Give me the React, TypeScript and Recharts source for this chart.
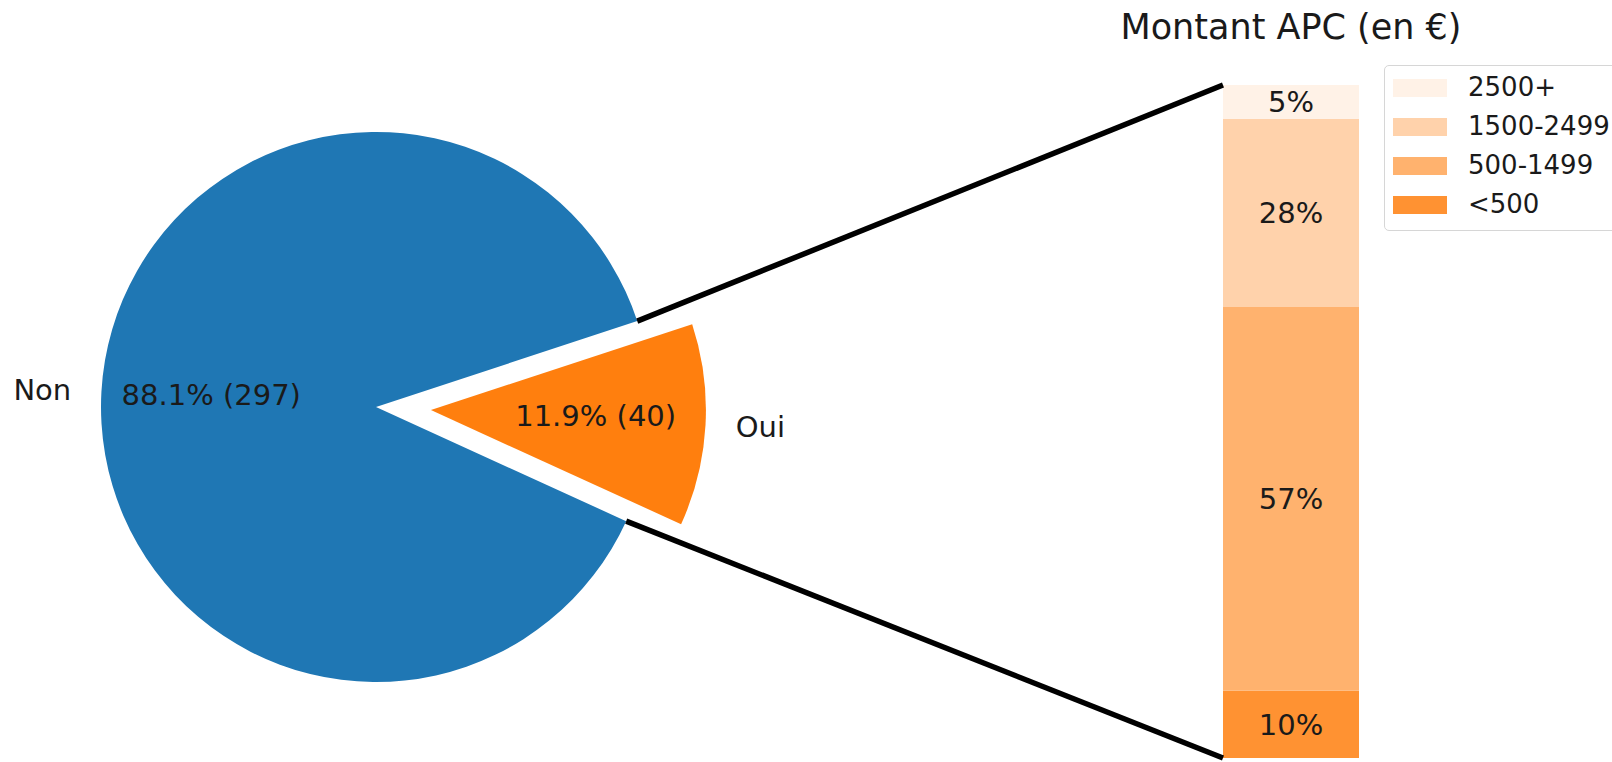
import React from 'react';
import { PieChart, Pie, Cell, BarChart, Bar, XAxis, YAxis, LabelList, Legend } from 'recharts';

// ---- data ----
const pieLabels = ['Non', 'Oui'];
const pieCounts = [297, 40];
const apcCategories = ['<500', '500-1499', '1500-2499', '2500+'];
const apcShares = [10, 57, 28, 5];
const chartTitle = 'Montant APC (en €)';

// ---- styles / layout ----
const FONT = 'DejaVu Sans';
const PIE_COLORS = ['#1f77b4', '#ff7f0e'];
const APC_COLORS = ['#ff9232', '#ffb26e', '#ffd2ab', '#fff2e7'];
const W = 1612;
const H = 762;
const PIE_CX = 376;
const PIE_CY = 407;
const PIE_R = 275;
const START_ANGLE = 18.2;
const EXPLODE = 55;
const EXPLODE_INDEX = 1;
const BAR_CHART_LEFT = 1150;
const BAR_CHART_W = 462;
const BAR_MARGIN = { top: 85, right: 253, bottom: 4, left: 73 };
const RADIAN = Math.PI / 180;

const total = pieCounts.reduce((a, b) => a + b, 0);
const pieData = pieLabels.map((name, i) => ({ name, value: pieCounts[i] }));
const boundaryAngle = (k: number) =>
  START_ANGLE + (360 * pieCounts.slice(0, k).reduce((a, b) => a + b, 0)) / total;
const explodeMid = (boundaryAngle(EXPLODE_INDEX) + boundaryAngle(EXPLODE_INDEX + 1)) / 2;
const OUI_CX = PIE_CX + EXPLODE * Math.cos(explodeMid * RADIAN);
const OUI_CY = PIE_CY - EXPLODE * Math.sin(explodeMid * RADIAN);

const barRow: Record<string, any> = { name: 'APC' };
apcCategories.forEach((c, i) => {
  barRow[c] = apcShares[i];
});
const barData = [barRow];

const polar = (cx: number, cy: number, r: number, a: number) => ({
  x: cx + r * Math.cos(a * RADIAN),
  y: cy - r * Math.sin(a * RADIAN),
});

const makeLabel = (only: number) => (props: any) => {
  const { cx, cy, midAngle, outerRadius, index, value, name } = props;
  if (index !== only) return null;
  const inner = polar(cx, cy, outerRadius * 0.6, midAngle);
  const outer = polar(cx, cy, outerRadius * 1.11, midAngle);
  const pct = ((100 * value) / total).toFixed(1);
  return (
    <g>
      <text
        x={inner.x}
        y={inner.y}
        dy={-3}
        textAnchor="middle"
        dominantBaseline="central"
        fill="#1a1a1a"
        fontSize={29}
        fontFamily={FONT}
      >
        {`${pct}% (${value})`}
      </text>
      <text
        x={outer.x}
        y={outer.y}
        textAnchor={outer.x < cx ? 'end' : 'start'}
        dominantBaseline="central"
        fill="#1a1a1a"
        fontSize={29}
        fontFamily={FONT}
      >
        {name}
      </text>
    </g>
  );
};

const renderLegend = (props: any) => {
  const payload = [...(props.payload || [])];
  const order = [...apcCategories].reverse();
  payload.sort((a: any, b: any) => order.indexOf(a.value) - order.indexOf(b.value));
  return (
    <div
      style={{
        width: 240,
        boxSizing: 'border-box',
        border: '1.5px solid #d6d6d6',
        borderRadius: 5,
        background: '#fff',
        padding: '2px 0 6px 8px',
        fontFamily: FONT,
        fontSize: 26,
        color: '#1a1a1a',
      }}
    >
      {payload.map((p: any) => (
        <div key={p.value} style={{ height: 39, display: 'flex', alignItems: 'center' }}>
          <span style={{ display: 'inline-block', width: 54, height: 18, background: p.color, marginRight: 21 }} />
          <span style={{ lineHeight: '39px' }}>{p.value}</span>
        </div>
      ))}
    </div>
  );
};

export default function App() {
  const barLeft = BAR_CHART_LEFT + BAR_MARGIN.left;
  const barRight = BAR_CHART_LEFT + BAR_CHART_W - BAR_MARGIN.right;
  const barTop = BAR_MARGIN.top;
  const barBottom = H - BAR_MARGIN.bottom;
  const upper = polar(PIE_CX, PIE_CY, PIE_R, boundaryAngle(EXPLODE_INDEX + 1));
  const lower = polar(PIE_CX, PIE_CY, PIE_R, boundaryAngle(EXPLODE_INDEX));
  return (
    <div style={{ position: 'relative', width: W, height: H, overflow: 'hidden', background: '#fff' }}>
      <style>{`body{margin:0;}`}</style>
      <div style={{ position: 'absolute', left: 0, top: 0 }}>
        <PieChart width={800} height={H} margin={{ top: 0, right: 0, bottom: 0, left: 0 }}>
          <Pie
            data={pieData}
            dataKey="value"
            nameKey="name"
            cx={PIE_CX}
            cy={PIE_CY}
            outerRadius={PIE_R}
            startAngle={START_ANGLE}
            endAngle={START_ANGLE + 360}
            stroke="none"
            labelLine={false}
            label={makeLabel(0)}
            isAnimationActive={false}
          >
            {pieData.map((d, i) => (
              <Cell key={d.name} fill={i === EXPLODE_INDEX ? 'transparent' : PIE_COLORS[i]} />
            ))}
          </Pie>
          <Pie
            data={pieData}
            dataKey="value"
            nameKey="name"
            cx={OUI_CX}
            cy={OUI_CY}
            outerRadius={PIE_R}
            startAngle={START_ANGLE}
            endAngle={START_ANGLE + 360}
            stroke="none"
            labelLine={false}
            label={makeLabel(EXPLODE_INDEX)}
            isAnimationActive={false}
          >
            {pieData.map((d, i) => (
              <Cell key={d.name} fill={i === EXPLODE_INDEX ? PIE_COLORS[i] : 'transparent'} />
            ))}
          </Pie>
        </PieChart>
      </div>
      <div style={{ position: 'absolute', left: BAR_CHART_LEFT, top: 0 }}>
        <BarChart width={BAR_CHART_W} height={H} data={barData} margin={BAR_MARGIN} barCategoryGap={0}>
          <XAxis dataKey="name" hide />
          <YAxis hide domain={[0, 100]} />
          {apcCategories.map((c, i) => (
            <Bar key={c} dataKey={c} name={c} stackId="apc" fill={APC_COLORS[i]} isAnimationActive={false}>
              <LabelList
                dataKey={c}
                position="center"
                formatter={(v: any) => `${v}%`}
                fill="#1a1a1a"
                fontSize={29}
                fontFamily={FONT}
              />
            </Bar>
          ))}
          <Legend
            layout="vertical"
            align="center"
            verticalAlign="middle"
            content={renderLegend}
            wrapperStyle={{ left: 234, top: 65, width: 240, height: 165 }}
          />
        </BarChart>
      </div>
      <svg
        width={W}
        height={H}
        style={{ position: 'absolute', left: 0, top: 0, pointerEvents: 'none' }}
      >
        <line x1={upper.x} y1={upper.y} x2={barLeft} y2={barTop} stroke="#000" strokeWidth={5.5} />
        <line x1={lower.x} y1={lower.y} x2={barLeft} y2={barBottom} stroke="#000" strokeWidth={5.5} />
        <text
          x={(barLeft + barRight) / 2}
          y={39}
          textAnchor="middle"
          fontSize={35}
          fontFamily={FONT}
          fill="#1a1a1a"
        >
          {chartTitle}
        </text>
      </svg>
    </div>
  );
}
